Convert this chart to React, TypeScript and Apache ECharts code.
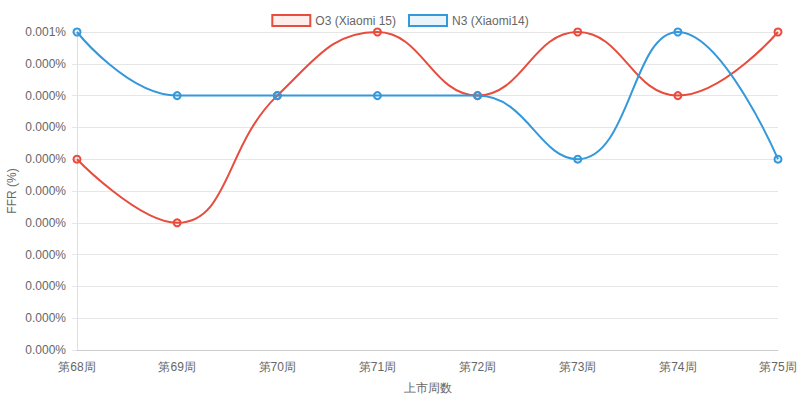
import React, { useEffect, useRef } from "react";
import * as echarts from "echarts";

const categories = ["第68周", "第69周", "第70周", "第71周", "第72周", "第73周", "第74周", "第75周"];
const o3Values = [0.0006, 0.0004, 0.0008, 0.001, 0.0008, 0.001, 0.0008, 0.001];
const n3Values = [0.001, 0.0008, 0.0008, 0.0008, 0.0008, 0.0006, 0.001, 0.0006];
const seriesNames = ["O3 (Xiaomi 15)", "N3 (Xiaomi14)"];

const FONT = "'Liberation Sans', Helvetica, Arial, sans-serif";

export default function App() {
  const ref = useRef<HTMLDivElement>(null);
  useEffect(() => {
    if (!ref.current) return;
    const chart = echarts.init(ref.current, undefined, { renderer: "svg" });
    const mk = (name: string, data: number[], color: string, fill: string) => ({
      name,
      type: "line",
      data,
      smooth: 0.45,
      symbol: "circle",
      symbolSize: 7,
      showSymbol: true,
      lineStyle: { color, width: 2 },
      itemStyle: { color: fill, borderColor: color, borderWidth: 2 },
      emphasis: { disabled: true },
    });
    chart.setOption({
      animation: false,
      textStyle: { fontFamily: FONT },
      legend: {
        top: 9,
        left: "center",
        itemWidth: 38,
        itemHeight: 11,
        itemGap: 12,
        icon: "rect",
        textStyle: { color: "#666", fontSize: 12, fontFamily: FONT },
        data: [
          { name: seriesNames[0], itemStyle: { color: "rgba(231,76,60,0.1)", borderColor: "#e74c3c", borderWidth: 2 } },
          { name: seriesNames[1], itemStyle: { color: "rgba(52,152,219,0.1)", borderColor: "#3498db", borderWidth: 2 } },
        ],
      },
      grid: { left: 77, right: 22, top: 32, bottom: 51, containLabel: false, outerBoundsMode: "none" },
      xAxis: {
        type: "category",
        data: categories,
        boundaryGap: false,
        name: "上市周数",
        nameLocation: "middle",
        nameGap: 32,
        nameMoveOverlap: false,
        nameTextStyle: { color: "#666", fontSize: 12, fontFamily: FONT },
        axisLine: { lineStyle: { color: "#cccccc", width: 1 } },
        axisTick: { show: false },
        axisLabel: { color: "#666", fontSize: 12, margin: 11, fontFamily: FONT },
        splitLine: { show: false },
      },
      yAxis: {
        type: "value",
        min: 0,
        max: 0.001,
        interval: 0.0001,
        name: "FFR (%)",
        nameLocation: "middle",
        nameGap: 59,
        nameMoveOverlap: false,
        nameTextStyle: { color: "#666", fontSize: 12, fontFamily: FONT },
        axisLine: { show: true, lineStyle: { color: "#e0e0e0", width: 1 } },
        axisTick: { show: true, length: 5, lineStyle: { color: "#e6e6e6" } },
        axisLabel: {
          color: "#666",
          fontSize: 12,
          margin: 11,
          fontFamily: FONT,
          formatter: (v: number) => (Math.floor(v * 1000 + 1e-9) / 1000).toFixed(3) + "%",
        },
        splitLine: { show: true, lineStyle: { color: "#e6e6e6", width: 1 } },
      },
      series: [
        mk(seriesNames[0], o3Values, "#e74c3c", "rgba(231,76,60,0.1)"),
        mk(seriesNames[1], n3Values, "#3498db", "rgba(52,152,219,0.1)"),
      ],
    });
    return () => chart.dispose();
  }, []);
  return <div ref={ref} style={{ width: 800, height: 401, position: "absolute", left: 0, top: 0 }} />;
}
